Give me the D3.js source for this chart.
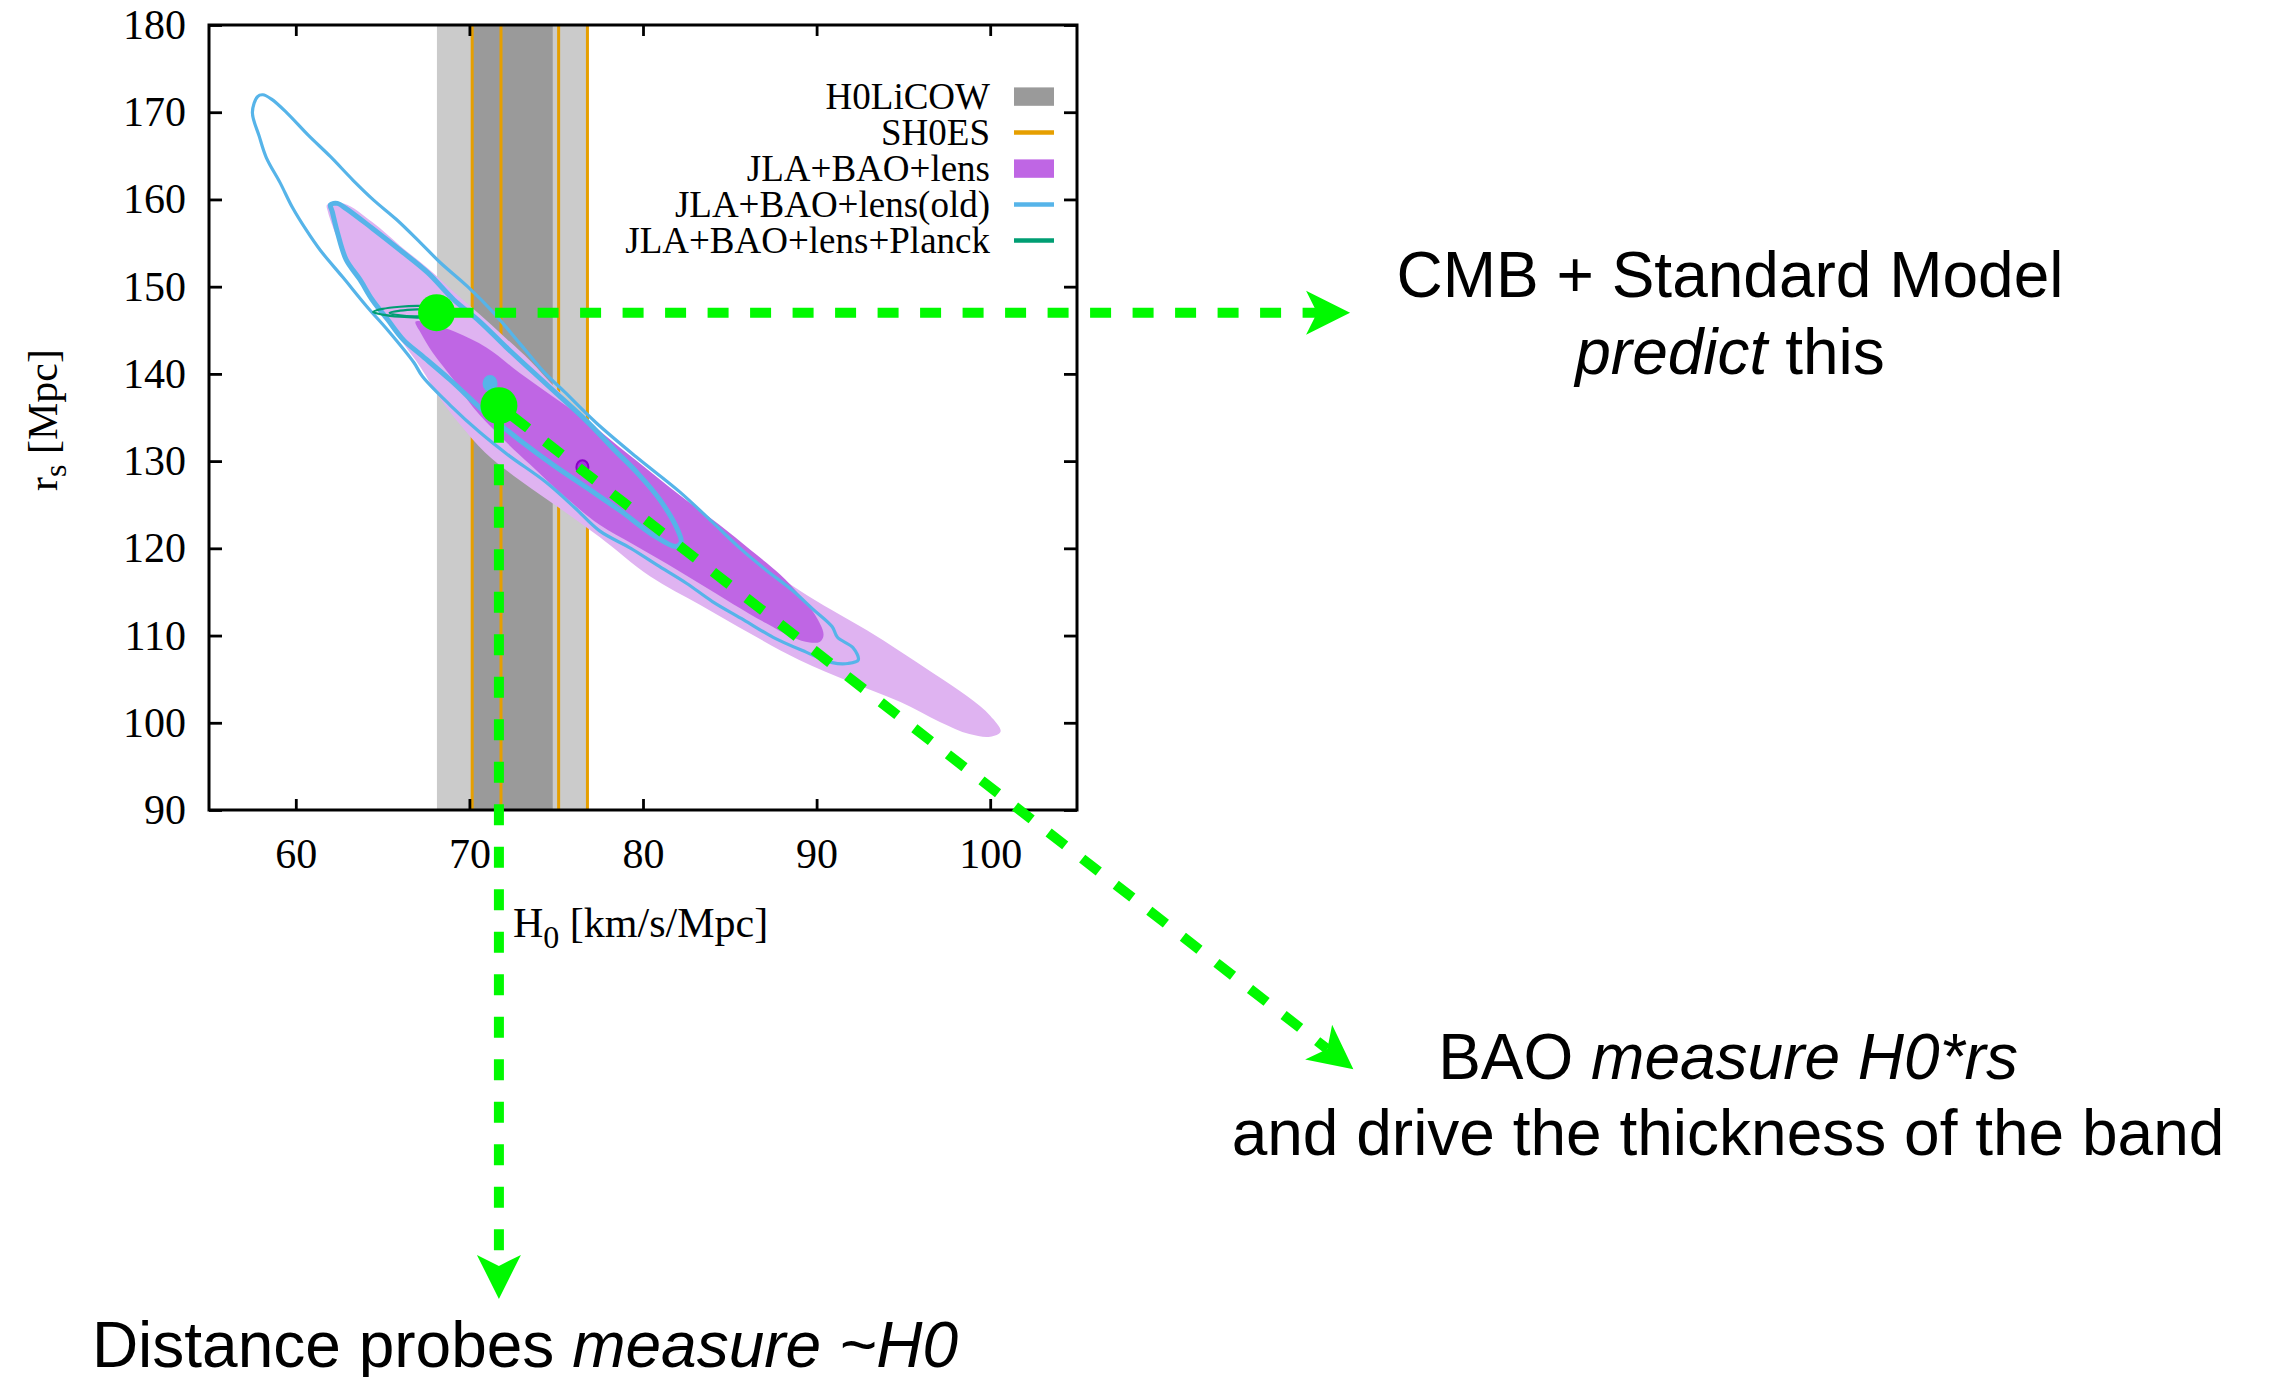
<!DOCTYPE html>
<html><head><meta charset="utf-8">
<script src="https://cdn.jsdelivr.net/npm/d3@7"></script>
<style>
html,body{margin:0;padding:0;background:#fff;}
svg{display:block;}
</style></head>
<body>
<svg id="chart" width="2269" height="1377"></svg>
<script>
// ---------- data (H0 in km/s/Mpc, r_s in Mpc) ----------
const xTicks = [60, 70, 80, 90, 100];
const yTicks = [90, 100, 110, 120, 130, 140, 150, 160, 170, 180];

// H0LiCOW bands and SH0ES 1σ / 2σ limits
const holicowOuter = [68.13, 76.85];
const holicowInner = [70.2, 74.8];
const shoesLines = [70.16, 71.82, 75.14, 76.80];

// JLA+BAO+lens, 2σ and 1σ regions
const lens2sigma = [
  [61.8,159.4],[62.8,159.5],[64.4,157.4],[66.0,154.7],[67.6,152.1],[69.1,149.4],[70.6,146.8],
  [72.1,144.1],[73.5,141.5],[74.9,138.5],[76.4,135.5],[77.8,132.8],[79.4,129.9],[81.3,126.7],
  [83.3,123.6],[85.2,120.6],[87.1,117.9],[89.0,115.2],[90.9,112.9],[92.9,110.6],[94.8,108.2],
  [96.7,105.7],[98.7,103.0],[100.0,100.8],[100.6,99.0],[100.0,98.4],[98.8,98.7],[97.1,100.1],
  [94.8,102.4],[91.9,104.7],[89.0,107.2],[86.2,110.2],[83.3,113.5],[80.4,116.8],[77.5,121.3],
  [75.2,124.6],[72.9,127.8],[70.9,131.0],[69.5,134.1],[68.3,137.2],[67.2,140.7],[66.1,143.7],
  [65.2,146.1],[64.4,148.4],[63.6,150.7],[62.9,153.2],[62.3,156.0],[61.85,158.6]
];
const lens1sigma = [
  [66.9,146.0],[68.0,145.6],[69.2,144.8],[71.0,143.0],[72.9,140.1],[74.8,137.4],[76.8,134.6],
  [78.7,131.5],[80.6,128.5],[82.5,125.5],[84.4,122.7],[86.2,119.8],[87.9,117.0],[89.0,114.7],
  [89.9,112.4],[90.4,110.1],[90.2,109.3],[89.6,109.2],[88.6,109.8],[87.1,111.4],[85.2,113.6],
  [83.3,115.9],[81.4,118.2],[79.4,120.5],[77.5,122.7],[75.5,125.9],[73.5,129.6],[71.8,132.8],
  [70.2,136.2],[69.1,139.3],[67.9,142.4],[67.2,144.7]
];

// JLA+BAO+lens (old), 2σ and 1σ contours
const old2sigma = [
  [57.8,171.8],[58.1,172.0],[58.6,171.5],[59.5,169.9],[60.7,167.4],[62.0,164.9],[63.3,162.2],
  [64.5,159.9],[65.8,157.7],[67.2,155.0],[68.3,152.8],[69.9,150.0],[71.4,147.0],[72.9,143.5],
  [74.3,140.2],[75.5,137.9],[77.3,134.4],[79.6,130.5],[82.1,126.5],[84.0,123.0],[85.6,120.0],
  [87.1,117.5],[88.6,115.2],[89.8,113.0],[90.9,111.0],[91.2,109.8],[92.1,108.6],[92.4,107.2],
  [91.8,106.8],[90.9,106.9],[89.4,108.1],[87.5,109.8],[85.8,111.8],[84.0,113.9],[82.5,116.0],
  [80.8,118.1],[79.3,120.0],[77.5,122.0],[76.1,124.6],[74.4,127.6],[72.3,130.6],[70.6,133.3],
  [68.9,136.4],[67.3,139.7],[66.8,141.3],[65.3,145.0],[64.1,147.7],[62.7,151.1],[61.4,154.2],
  [60.6,156.5],[59.8,159.1],[59.1,161.9],[58.3,164.8],[57.9,167.2],[57.5,170.0]
];
const old1sigma = [
  [62.0,159.4],[62.4,159.55],[62.9,158.95],[64.4,156.7],[66.0,154.2],[67.6,151.6],[69.1,148.5],
  [70.6,146.0],[72.1,143.1],[74.5,138.7],[76.8,134.5],[78.3,131.4],[79.7,128.6],[81.0,125.5],
  [82.0,122.1],[82.2,120.7],[81.9,120.2],[80.6,121.5],[78.7,124.3],[76.8,126.9],[74.8,129.6],
  [72.9,132.4],[70.9,135.6],[68.9,139.3],[67.2,142.2],[66.2,143.9],[65.3,146.2],[64.4,148.5],
  [63.7,150.8],[62.9,153.1],[62.4,156.2],[62.1,158.6]
];
const oldBest = [71.19, 138.9];
const lensBest = [76.51, 129.3];

// JLA+BAO+lens+Planck contours
const planckOuter = [
  [64.45,147.1],[65.0,147.45],[66.0,147.7],[67.0,147.8],[68.0,147.75],[69.0,147.5],[69.5,147.1],
  [69.0,146.75],[68.0,146.5],[67.0,146.45],[66.0,146.55],[65.0,146.8]
];
const planckInner = [
  [65.4,147.0],[66.0,147.25],[67.0,147.4],[68.0,147.4],[68.9,147.1],[68.0,146.75],[67.0,146.6],
  [66.0,146.7]
];

const legendLabels = ["H0LiCOW", "SH0ES", "JLA+BAO+lens", "JLA+BAO+lens(old)", "JLA+BAO+lens+Planck"];

// annotation anchors and arrow tips (data units, extrapolated beyond the axes)
const cmbPoint = [68.11, 147.02];
const probePoint = [71.70, 136.36];
const cmbTarget = [120.73, 147.02];
const probeTarget = [71.70, 33.95];
const baoTarget = [120.92, 60.28];

// ---------- layout ----------
const svg = d3.select("#chart");
const frame = {left: 209, right: 1077, top: 25, bottom: 810};
const x = d3.scaleLinear().domain([55, 105]).range([frame.left, frame.right]);
const y = d3.scaleLinear().domain([90, 180]).range([frame.bottom, frame.top]);
const serif = "'Liberation Serif', 'Times New Roman', Times, serif";
const sans = "'Liberation Sans', Arial, Helvetica, sans-serif";

svg.append("defs").append("clipPath").attr("id", "plotclip")
  .append("rect").attr("x", frame.left).attr("y", frame.top)
  .attr("width", frame.right - frame.left).attr("height", frame.bottom - frame.top);

const plot = svg.append("g").attr("clip-path", "url(#plotclip)");

function band(range, color) {
  plot.append("rect")
    .attr("x", x(range[0])).attr("width", x(range[1]) - x(range[0]))
    .attr("y", frame.top).attr("height", frame.bottom - frame.top)
    .attr("fill", color);
}
band(holicowOuter, "#cbcbcb");
band(holicowInner, "#9a9a9a");

plot.selectAll("line.shoes").data(shoesLines).enter().append("line")
  .attr("class", "shoes")
  .attr("x1", d => x(d)).attr("x2", d => x(d))
  .attr("y1", frame.top).attr("y2", frame.bottom)
  .attr("stroke", "#e69f00").attr("stroke-width", 3);

const contour = d3.line().x(d => x(d[0])).y(d => y(d[1]))
  .curve(d3.curveCatmullRomClosed.alpha(0.5));

plot.append("path").attr("d", contour(lens2sigma)).attr("fill", "#dfb3f1");
plot.append("path").attr("d", contour(lens1sigma)).attr("fill", "#bf66e4");

plot.append("path").attr("d", contour(old2sigma))
  .attr("fill", "none").attr("stroke", "#56b4e9").attr("stroke-width", 3.2)
  .attr("stroke-linejoin", "round");
plot.append("path").attr("d", contour(old1sigma))
  .attr("fill", "none").attr("stroke", "#56b4e9").attr("stroke-width", 5)
  .attr("stroke-linejoin", "round");

plot.append("ellipse").attr("cx", x(oldBest[0])).attr("cy", y(oldBest[1]))
  .attr("rx", 7.5).attr("ry", 8.5).attr("fill", "#56b4e9");
plot.append("ellipse").attr("cx", x(lensBest[0])).attr("cy", y(lensBest[1]))
  .attr("rx", 6).attr("ry", 7).attr("fill", "#a437de")
  .attr("stroke", "#8a00c8").attr("stroke-width", 2);

[planckOuter, planckInner].forEach(c => {
  plot.append("path").attr("d", contour(c))
    .attr("fill", "none").attr("stroke", "#009e73").attr("stroke-width", 2.2);
});

// ---------- frame and axes ----------
svg.append("rect")
  .attr("x", frame.left).attr("y", frame.top)
  .attr("width", frame.right - frame.left).attr("height", frame.bottom - frame.top)
  .attr("fill", "none").attr("stroke", "#000").attr("stroke-width", 3);

function styleAxis(g) {
  g.select(".domain").remove();
  g.selectAll(".tick line").attr("stroke", "#000").attr("stroke-width", 2.8);
  g.selectAll(".tick text").attr("fill", "#000")
    .attr("font-family", serif).attr("font-size", 42);
}
svg.append("g").attr("transform", `translate(0,${frame.bottom})`)
  .call(d3.axisBottom(x).tickValues(xTicks).tickSize(-11).tickPadding(28)).call(styleAxis);
svg.append("g").attr("transform", `translate(0,${frame.top})`)
  .call(d3.axisTop(x).tickValues(xTicks).tickSize(-11).tickFormat("")).call(styleAxis);
svg.append("g").attr("transform", `translate(${frame.left},0)`)
  .call(d3.axisLeft(y).tickValues(yTicks).tickSize(-13).tickPadding(23)).call(styleAxis);
svg.append("g").attr("transform", `translate(${frame.right},0)`)
  .call(d3.axisRight(y).tickValues(yTicks).tickSize(-13).tickFormat("")).call(styleAxis);

const xl = svg.append("text").attr("x", 513).attr("y", 937)
  .attr("font-family", serif).attr("font-size", 42).attr("fill", "#000");
xl.append("tspan").text("H");
xl.append("tspan").attr("font-size", 32).attr("dy", 11).text("0");
xl.append("tspan").attr("dy", -11).text(" [km/s/Mpc]");

const yl = svg.append("text").attr("transform", "translate(57,420) rotate(-90)")
  .attr("text-anchor", "middle")
  .attr("font-family", serif).attr("font-size", 42).attr("fill", "#000");
yl.append("tspan").text("r");
yl.append("tspan").attr("font-size", 32).attr("dy", 9).text("s");
yl.append("tspan").attr("dy", -9).text(" [Mpc]");

// ---------- legend ----------
const legendKeys = [
  {type: "box", color: "#9a9a9a"},
  {type: "line", color: "#e69f00"},
  {type: "box", color: "#bf66e4"},
  {type: "line", color: "#56b4e9"},
  {type: "line", color: "#009e73"}
];
const legend = svg.append("g");
legendLabels.forEach((label, i) => {
  const base = 109.3 + 36 * i;
  legend.append("text").attr("x", 990).attr("y", base)
    .attr("text-anchor", "end").attr("font-family", serif).attr("font-size", 37)
    .attr("fill", "#000").text(label);
  const k = legendKeys[i];
  const cy = base - 12.7;
  if (k.type === "box") {
    legend.append("rect").attr("x", 1014).attr("y", cy - 9.2).attr("width", 40).attr("height", 18.4)
      .attr("fill", k.color);
  } else {
    legend.append("line").attr("x1", 1014).attr("x2", 1054).attr("y1", cy).attr("y2", cy)
      .attr("stroke", k.color).attr("stroke-width", 4.5);
  }
});

// ---------- annotations ----------
const green = "#00f900";
const notes = svg.append("g");
function arrow(from, to) {
  const p0 = [x(from[0]), y(from[1])], p1 = [x(to[0]), y(to[1])];
  const dx = p1[0] - p0[0], dy = p1[1] - p0[1], L = Math.hypot(dx, dy);
  const u = [dx / L, dy / L], n = [-u[1], u[0]];
  const at = t => [p0[0] + u[0] * t, p0[1] + u[1] * t];
  const s = at(16), e = at(L - 33);
  notes.append("line").attr("x1", s[0]).attr("y1", s[1]).attr("x2", e[0]).attr("y2", e[1])
    .attr("stroke", green).attr("stroke-width", 10).attr("stroke-dasharray", "21 21.5");
  const b = at(L - 44), notch = at(L - 33);
  const head = [p1, [b[0] + n[0] * 22, b[1] + n[1] * 22], notch, [b[0] - n[0] * 22, b[1] - n[1] * 22]];
  notes.append("polygon").attr("points", head.map(p => p.join(",")).join(" ")).attr("fill", green);
}
arrow(cmbPoint, cmbTarget);
arrow(probePoint, probeTarget);
arrow(probePoint, baoTarget);
[cmbPoint, probePoint].forEach(p => {
  notes.append("circle").attr("cx", x(p[0])).attr("cy", y(p[1])).attr("r", 18.5).attr("fill", green);
});

function caption(cx, cy, parts) {
  const t = svg.append("text").attr("x", cx).attr("y", cy).attr("text-anchor", "middle")
    .attr("font-family", sans).attr("font-size", 64).attr("fill", "#000");
  parts.forEach(p => {
    const s = t.append("tspan").text(p[0]);
    if (p[1]) s.attr("font-style", "italic");
  });
}
caption(1730, 297, [["CMB + Standard Model"]]);
caption(1730, 374, [["predict", true], [" this"]]);
caption(1728, 1079, [["BAO "], ["measure H0*rs", true]]);
caption(1728, 1155, [["and drive the thickness of the band"]]);
caption(525, 1367, [["Distance probes "], ["measure ~H0", true]]);
</script>
</body></html>
